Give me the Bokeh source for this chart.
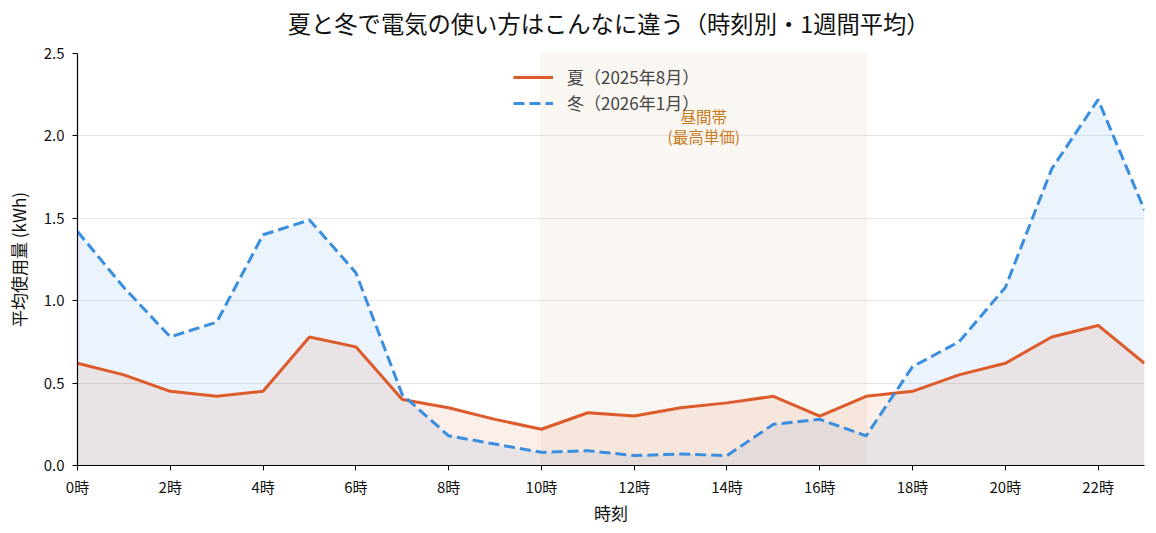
from bokeh.plotting import figure
from bokeh.layouts import column
from bokeh.models import ColumnDataSource, FixedTicker, Legend, LegendItem, BoxAnnotation, Label, Range1d
from bokeh.embed import file_html
from bokeh.resources import INLINE

hours = list(range(24))
summer = [0.62, 0.55, 0.45, 0.42, 0.45, 0.78, 0.72, 0.40, 0.35, 0.28, 0.22, 0.32,
          0.30, 0.35, 0.38, 0.42, 0.30, 0.42, 0.45, 0.55, 0.62, 0.78, 0.85, 0.62]
winter = [1.42, 1.08, 0.78, 0.87, 1.40, 1.49, 1.17, 0.43, 0.18, 0.13, 0.08, 0.09,
          0.06, 0.07, 0.06, 0.25, 0.28, 0.18, 0.60, 0.75, 1.08, 1.80, 2.22, 1.55]
x_ticks = list(range(0, 24, 2))
x_tick_labels = [f"{h}時" for h in x_ticks]
y_ticks = [0.0, 0.5, 1.0, 1.5, 2.0, 2.5]
labels = ["夏（2025年8月）", "冬（2026年1月）"]
title_text = "夏と冬で電気の使い方はこんなに違う（時刻別・1週間平均）"
day_band = (10, 17)

FONT = "Noto Sans CJK JP"
C_SUM = "#dd5a2b"
C_WIN = "#3a8ee0"

W = 1156
TITLE_H = 40

# ---- title strip ----
t = figure(width=W, height=TITLE_H, output_backend="svg", toolbar_location=None,
           x_range=Range1d(0, W), y_range=Range1d(0, TITLE_H),
           x_axis_type=None, y_axis_type=None, min_border=0)
t.outline_line_color = None
t.grid.grid_line_color = None
t.add_layout(Label(x=575.5, y=TITLE_H - 22, text=title_text, text_align="center",
                   text_baseline="middle", text_font=FONT, text_font_size="23.3px",
                   text_color="#111111"))

# ---- main chart ----
src = ColumnDataSource(dict(h=hours, s=summer, w=winter, z=[0] * len(hours)))

p = figure(width=W, height=533 - TITLE_H, output_backend="svg", toolbar_location=None,
           x_range=Range1d(0, 23), y_range=Range1d(0, 2.5),
           min_border_left=77, min_border_right=12, min_border_top=53 - TITLE_H,
           min_border_bottom=68)

p.outline_line_color = None
p.xgrid.grid_line_color = None
p.ygrid.grid_line_color = "#e6e6e6"
p.ygrid.grid_line_width = 1

band = BoxAnnotation(left=day_band[0], right=day_band[1], fill_color="#d2a679",
                     fill_alpha=0.1, line_color="#d2a679", line_alpha=0.12, level="underlay")
p.add_layout(band)

p.varea(x="h", y1="z", y2="w", source=src, fill_color=C_WIN, fill_alpha=0.1)
p.varea(x="h", y1="z", y2="s", source=src, fill_color=C_SUM, fill_alpha=0.1)
r_s = p.line(x="h", y="s", source=src, line_color=C_SUM, line_width=3)
r_w = p.line(x="h", y="w", source=src, line_color=C_WIN, line_width=3, line_dash="11 5")

p.add_layout(Label(x=(day_band[0] + day_band[1]) / 2, y=2.12, text="昼間帯", text_align="center",
                   text_baseline="middle", text_font=FONT, text_font_size="15.5px",
                   text_color="#c97a1c"))
p.add_layout(Label(x=(day_band[0] + day_band[1]) / 2, y=2.0, text="(最高単価)", text_align="center",
                   text_baseline="middle", text_font=FONT, text_font_size="15.5px",
                   text_color="#c97a1c"))

legend = Legend(items=[LegendItem(label=labels[0], renderers=[r_s]),
                       LegendItem(label=labels[1], renderers=[r_w])],
                location=(426, 340), border_line_alpha=0, background_fill_alpha=0,
                label_text_font=FONT, label_text_font_size="17px", glyph_width=40,
                label_standoff=14, spacing=1, padding=10, margin=0)
p.add_layout(legend)

for ax in (p.xaxis, p.yaxis):
    ax.axis_line_color = "#000000"
    ax.axis_line_width = 1.2
    ax.major_tick_out = 5
    ax.major_tick_in = 0
    ax.minor_tick_line_color = None
    ax.major_tick_line_color = "#000000"
    ax.major_label_text_font = FONT
    ax.major_label_text_font_size = "15px"
    ax.major_label_text_color = "#111111"
    ax.axis_label_text_font = FONT
    ax.axis_label_text_font_size = "17px"
    ax.axis_label_text_font_style = "normal"
    ax.axis_label_text_color = "#111111"

p.xaxis.ticker = FixedTicker(ticks=x_ticks)
p.xaxis.major_label_overrides = {t_: l for t_, l in zip(x_ticks, x_tick_labels)}
p.xaxis.axis_label = "時刻"
p.xaxis.axis_label_standoff = 0
p.yaxis.ticker = FixedTicker(ticks=y_ticks)
p.yaxis.major_label_overrides = {t_: f"{t_:.1f}" for t_ in y_ticks}
p.yaxis.major_label_standoff = 8
p.yaxis.axis_label = "平均使用量 (kWh)"
p.yaxis.axis_label_standoff = 10

layout = column(t, p, spacing=0)
open("out.html", "w").write(file_html(layout, INLINE))
